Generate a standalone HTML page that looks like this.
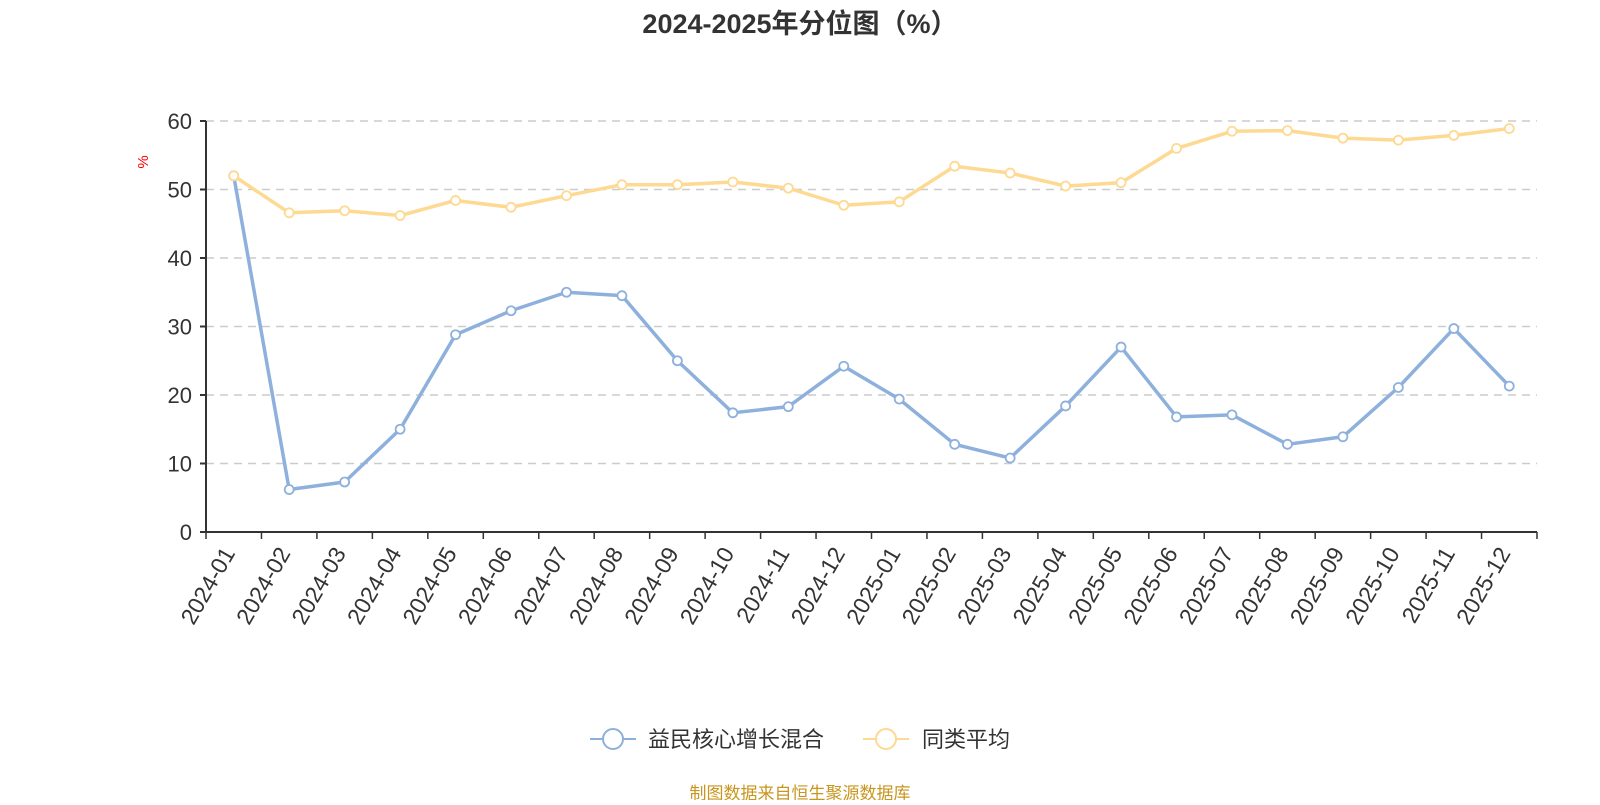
<!DOCTYPE html>
<html><head><meta charset="utf-8"><style>
body{margin:0;background:#fff;width:1600px;height:800px;overflow:hidden}
text{font-family:"Liberation Sans","Noto Sans CJK SC",sans-serif}
</style></head><body>
<svg width="1600" height="800" xmlns="http://www.w3.org/2000/svg" id="s">
<text x="800" y="33" text-anchor="middle" font-size="27" font-weight="bold" fill="#333">2024-2025年分位图（%）</text>
<g id="grid"></g>
<text transform="translate(148,162) rotate(-90)" text-anchor="middle" font-size="15" fill="red">%</text>
<g id="axes"></g>
<g id="series"></g>
<g transform="translate(0,739)">
<line x1="590" y1="0" x2="636" y2="0" stroke="#8eb0dc" stroke-width="2"/>
<circle cx="613" cy="0" r="10" fill="#fff" stroke="#8eb0dc" stroke-width="2"/>
<text x="648" y="8" font-size="22" fill="#333">益民核心增长混合</text>
<line x1="863" y1="0" x2="909" y2="0" stroke="#fdd992" stroke-width="2"/>
<circle cx="886" cy="0" r="10" fill="#fff" stroke="#fdd992" stroke-width="2"/>
<text x="922" y="8" font-size="22" fill="#333">同类平均</text>
</g>
<text x="800" y="799" text-anchor="middle" font-size="17" fill="#c8961e">制图数据来自恒生聚源数据库</text>
</svg>
<script>
const ns="http://www.w3.org/2000/svg";
function el(p,t,a,txt){const e=document.createElementNS(ns,t);for(const k in a)e.setAttribute(k,a[k]);if(txt!==undefined)e.textContent=txt;document.getElementById(p).appendChild(e);return e;}
const x0=206,x1=1537,y0=532,yt=121;
const Y=v=>y0-(y0-yt)*v/60;
for(let v=0;v<=60;v+=10){
 if(v>0)el("grid","line",{x1:x0,x2:x1,y1:Y(v),y2:Y(v),stroke:"#ccc","stroke-width":1.5,"stroke-dasharray":"8,6"});
 el("axes","line",{x1:x0-6,x2:x0,y1:Y(v),y2:Y(v),stroke:"#333","stroke-width":2});
 el("axes","text",{x:x0-14,y:Y(v)+8,"text-anchor":"end","font-size":22,fill:"#333"},v);
}
el("axes","line",{x1:x0,x2:x0,y1:yt,y2:y0,stroke:"#333","stroke-width":2});
el("axes","line",{x1:x0,x2:x1,y1:y0,y2:y0,stroke:"#333","stroke-width":2});
const n=24,bw=(x1-x0)/n;
const labels=[];for(let y of [2024,2025])for(let m=1;m<=12;m++)labels.push(y+"-"+String(m).padStart(2,"0"));
for(let i=0;i<=n;i++)el("axes","line",{x1:x0+i*bw,x2:x0+i*bw,y1:y0,y2:y0+7,stroke:"#333","stroke-width":1.5});
labels.forEach((l,i)=>{const cx=x0+(i+0.5)*bw;el("axes","text",{transform:`translate(${cx+2},${y0+21}) rotate(-60)`,"text-anchor":"end","font-size":23,fill:"#333"},l);});
const a=[52,6.2,7.3,15,28.8,32.3,35,34.5,25,17.4,18.3,24.2,19.4,12.8,10.8,18.4,27,16.8,17.1,12.8,13.9,21.1,29.7,21.3];
const b=[52,46.6,46.9,46.2,48.4,47.4,49.1,50.7,50.7,51.1,50.2,47.7,48.2,53.4,52.4,50.5,51,56,58.5,58.6,57.5,57.2,57.9,58.9];
function draw(d,c){const pts=d.map((v,i)=>[x0+(i+0.5)*bw,Y(v)]);
 el("series","polyline",{points:pts.map(p=>p.join(",")).join(" "),fill:"none",stroke:c,"stroke-width":3.5,"stroke-linejoin":"round"});
 pts.forEach(p=>el("series","circle",{cx:p[0],cy:p[1],r:4.5,fill:"#fff",stroke:c,"stroke-width":1.8}));}
draw(a,"#8eb0dc");draw(b,"#fdd992");
</script>
</body></html>
